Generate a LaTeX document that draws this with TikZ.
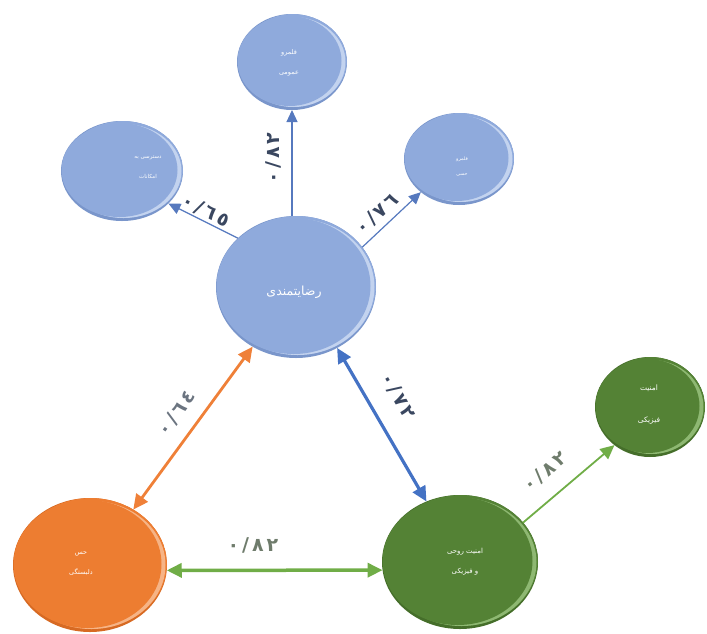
\documentclass[tikz,border=0pt]{standalone}
\usepackage{fontspec}
\setmainfont{DejaVu Sans}
\newfontfamily\arabicfont[Script=Arabic]{DejaVu Sans}
\newfontfamily\digitfont{DejaVu Sans}
\TeXXeTstate=1
\usetikzlibrary{shapes.geometric,arrows.meta,calc}
\definecolor{bdark}{HTML}{7A96CB}
\definecolor{bbase}{HTML}{8FAADC}
\definecolor{bhi}{HTML}{C3D3EF}
\definecolor{gdark}{HTML}{456E2A}
\definecolor{gbase}{HTML}{548235}
\definecolor{ghi}{HTML}{8EB872}
\definecolor{odark}{HTML}{D76A23}
\definecolor{obase}{HTML}{ED7D31}
\definecolor{ohi}{HTML}{F6B486}
\definecolor{thinblue}{HTML}{5679BE}
\definecolor{thickblue}{HTML}{4472C4}
\definecolor{arrorange}{HTML}{EF8038}
\definecolor{arrgreen}{HTML}{70AD47}
\definecolor{labdark}{HTML}{3A4760}
\definecolor{labgray}{HTML}{6B7480}
\definecolor{labgreen}{HTML}{6F7C6C}
\newcommand\numlab[4]{#1\kern3pt#2\kern3pt#3\kern3pt#4}
\begin{document}
\begin{tikzpicture}[x=1pt,y=-1pt,
  bubble/.style n args={3}{ellipse, inner sep=0pt, outer sep=0pt, fill=#1,
    path picture={
      \fill[#2] let \p1=(path picture bounding box.north east), \p2=(path picture bounding box.center) in
        (\x2+1.5pt,\y2+1.5pt) ellipse [x radius=\x1-\x2-1.5pt, y radius=\y1-\y2-1.5pt];
      \fill[#3] let \p1=(path picture bounding box.north east), \p2=(path picture bounding box.center) in
        (\x2+1.5pt,\y2) ellipse [x radius=\x1-\x2-3pt, y radius=\y1-\y2-3pt];
      \fill[#2] let \p1=(path picture bounding box.north east), \p2=(path picture bounding box.center) in
        (\x2-2.5pt,\y2+1pt) ellipse [x radius=\x1-\x2-3pt, y radius=\y1-\y2-3pt];
    }},
  bluebub/.style={bubble={bdark}{bbase}{bhi}},
  greenbub/.style={bubble={gdark}{gbase}{ghi}},
  orangebub/.style={bubble={odark}{obase}{ohi}},
  btext/.style={text=white, align=center, inner sep=0pt},
  lab/.style={font=\digitfont\bfseries\fontsize{19}{19}\selectfont, inner sep=0pt, text=labdark},
  thinarrow/.style={draw=thinblue, line width=1.2pt, -{Triangle[length=12pt,width=11pt]}},
  thickarrow/.style={line width=3.2pt, {Triangle[length=15pt,width=14pt]}-{Triangle[length=15pt,width=14pt]}},
]
\useasboundingbox (0,0) rectangle (707,633);

% bubbles
\node[bluebub, minimum width=110pt, minimum height=96pt] (t) at (292,62) {};
\node[bluebub, minimum width=122pt, minimum height=100pt] (lt) at (122,171) {};
\node[bluebub, minimum width=110pt, minimum height=92pt] (rt) at (459,159) {};
\node[bluebub, minimum width=160pt, minimum height=142pt] (c) at (296,287) {};
\node[greenbub, minimum width=110pt, minimum height=100pt] (rg) at (650,407) {};
\node[orangebub, minimum width=154pt, minimum height=134pt] (o) at (90,565) {};
\node[greenbub, minimum width=156pt, minimum height=134pt] (g) at (460,562) {};

% bubble texts
\node[btext, font=\arabicfont\fontsize{6.5}{20}\selectfont] (tt) at (289,63)
  {\beginR قلمرو\endR\\\beginR عمومی\endR};
\node[btext, font=\arabicfont\fontsize{5.5}{20}\selectfont] (ltt) at (148,167)
  {\beginR به\endR\ \beginR دسترسی\endR\\\beginR امکانات\endR};
\node[btext, font=\arabicfont\fontsize{4.8}{15}\selectfont] (rtt) at (462,166)
  {\beginR قلمرو\endR\\\beginR حسی\endR};
\node[btext, font=\arabicfont\fontsize{12.5}{14}\selectfont] (ct) at (294,292)
  {\beginR رضایتمندی\endR};
\node[btext, font=\arabicfont\fontsize{7.5}{32}\selectfont] (rgt) at (649,405)
  {\beginR امنیت\endR\\\beginR فیزیکی\endR};
\node[btext, font=\arabicfont\fontsize{6.5}{20}\selectfont] (ot) at (81,564)
  {\beginR حس\endR\\\beginR دلبستگی\endR};
\node[btext, font=\arabicfont\fontsize{7}{20}\selectfont] (gt) at (465,562)
  {\beginR روحی\endR\ \beginR امنیت\endR\\\beginR فیزیکی\endR\ \beginR و\endR};

% connectors
\draw[thinarrow] (c.north -| t.south) -- (t.south);
\draw[thinarrow] (c.140) -- (lt.-35);
\draw[thinarrow] (c.31) -- (rt.221);
\draw[thickarrow, draw=arrorange, line width=2.8pt] (c.234) -- (o.52);
\draw[thickarrow, draw=thickblue] (c.-56) -- (g.119);
\draw[thickarrow, draw=arrgreen, line width=3.5pt] (o.-4) -- (g.186);
\draw[draw=arrgreen, line width=1.8pt, -{Triangle[length=14pt,width=13pt]}] (g.32) -- (rg.227);

% labels
\node[lab, rotate=90] (l1) at (273,158) {\numlab{٠}{/}{٨}{٢}};
\node[lab, rotate=-28] (l2) at (206,211) {\numlab{٠}{/}{٦}{٥}};
\node[lab, rotate=43] (l3) at (377,214) {\numlab{٠}{/}{٧}{٦}};
\node[lab, rotate=54, text=labgray] (l4) at (177,413) {\numlab{٠}{/}{٦}{٤}};
\node[lab, rotate=-60] (l5) at (398,396) {\numlab{٠}{/}{٧}{٢}};
\node[lab, text=labgreen] (l6) at (253,545) {\numlab{٠}{/}{٨}{٢}};
\node[lab, rotate=40, text=labgreen] (l7) at (545,472) {\numlab{٠}{/}{٨}{٢}};
\end{tikzpicture}
\end{document}
